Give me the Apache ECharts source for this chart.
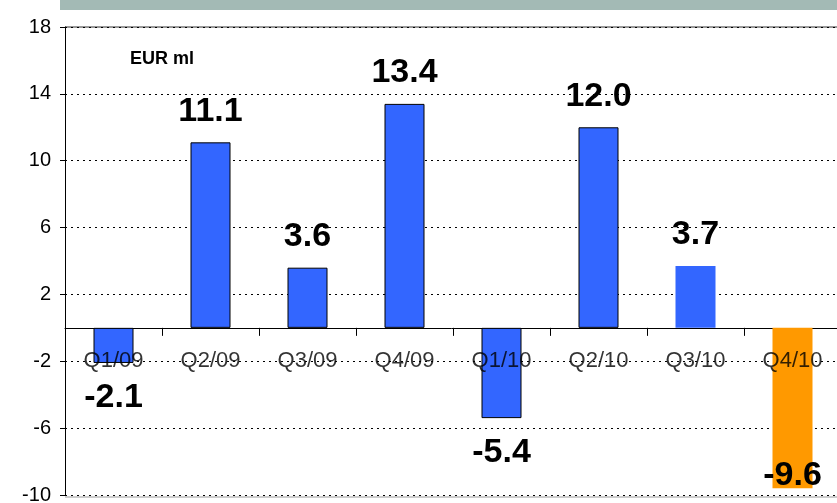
<!DOCTYPE html>
<html>
<head>
<meta charset="utf-8">
<script src="https://cdn.jsdelivr.net/npm/echarts@6/dist/echarts.min.js"></script>
<style>
	html,body {margin:0;padding:0;background:#fff;}
	#band {position:absolute;left:60px;top:0;width:777px;height:10px;background:#a3bab5;}
	#chart {width:837px;height:503px;}
</style>
</head>
<body>
<div id="band"></div>
<div id="chart"></div>
<script>
var categories = ['Q1/09','Q2/09','Q3/09','Q4/09','Q1/10','Q2/10','Q3/10','Q4/10'];
var values = [-2.1, 11.1, 3.6, 13.4, -5.4, 12.0, 3.7, -9.6];
var labelLevel = -2;

var chart = echarts.init(document.getElementById('chart'));
var data = values.map(function (v, i) {
	var item = {
		value: v,
		itemStyle: {color: '#3366ff', borderColor: '#000', borderWidth: 1},
		label: {position: v >= 0 ? 'top' : 'bottom', distance: v >= 0 ? 14 : 18}
	};
	if (i === 6) item.itemStyle = {color: '#3366ff', borderWidth: 0};
	if (i === 7) {
		item.itemStyle = {color: '#ff9900', borderWidth: 0};
		item.label = {position: 'insideBottom', distance: -4};
	}
	return item;
});

chart.setOption({
	animation: false,
	grid: {left: 65, right: -4, top: 27, bottom: 8, outerBoundsMode: 'none', containLabel: false},
	graphic: [{
		type: 'text', left: 130, top: 50,
		style: {text: 'EUR ml', font: 'bold 18px Liberation Sans', fill: '#000'}
	}, {
		type: 'line', shape: {x1: 65, y1: 27, x2: 837, y2: 27},
		style: {stroke: '#333', lineWidth: 1}
	}, {
		type: 'line', shape: {x1: 65, y1: 497, x2: 837, y2: 497},
		style: {stroke: '#999', lineWidth: 1}
	}],
	xAxis: {
		type: 'category',
		data: categories,
		axisLine: {onZero: true, lineStyle: {color: '#000', width: 1}},
		axisTick: {show: true, length: 8, lineStyle: {color: '#000'}},
		axisLabel: {show: false}
	},
	yAxis: {
		type: 'value',
		min: -10, max: 18, interval: 4,
		axisLine: {show: true, lineStyle: {color: '#000'}},
		axisTick: {show: true, length: 5, lineStyle: {color: '#000'}},
		axisLabel: {color: '#000', fontSize: 20, fontFamily: 'Liberation Sans', margin: 14},
		splitLine: {lineStyle: {type: [2, 4], color: '#000', width: 1}}
	},
	series: [{
		type: 'bar',
		data: data,
		barWidth: 40,
		z: 2,
		label: {
			show: true,
			fontSize: 34, fontWeight: 'bold', fontFamily: 'Liberation Sans', color: '#000',
			formatter: function (p) { return p.value.toFixed(1); }
		}
	}, {
		type: 'scatter',
		data: categories.map(function (c) { return [c, labelLevel]; }),
		symbolSize: 0,
		z: 3,
		label: {
			show: true, position: 'inside',
			fontSize: 22, fontFamily: 'Liberation Sans', color: '#000',
			formatter: function (p) { return p.value[0]; }
		}
	}]
});
</script>
</body>
</html>
